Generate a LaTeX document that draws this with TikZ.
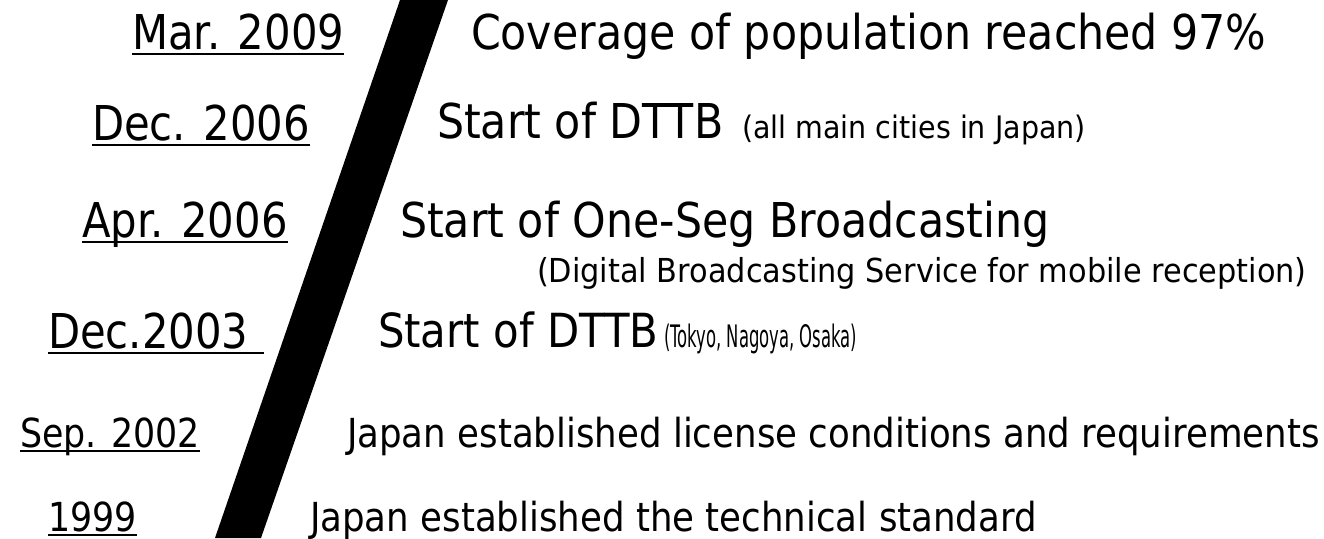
\documentclass[tikz,border=0pt]{standalone}
\usepackage{fontspec}
\setmainfont[FakeStretch=0.87]{DejaVu Sans}
\newfontfamily\fwide[FakeStretch=0.89]{DejaVu Sans}
\newfontfamily\fdig[FakeStretch=0.92]{DejaVu Sans}
\newfontfamily\fnarrow[FakeStretch=0.53]{DejaVu Sans}
\tikzset{
  lbl/.style={inner sep=0pt, outer sep=0pt, anchor=base west},
  big/.style={lbl, font=\fontsize{48}{48}\selectfont},
  mid/.style={lbl, font=\fontsize{40}{40}\selectfont},
  evbig/.style={lbl, font=\fwide\fontsize{48}{48}\selectfont},
  evbigb/.style={lbl, font=\fwide\fontsize{47}{47}\selectfont},
  evmid/.style={lbl, font=\fwide\fontsize{40}{40}\selectfont},
  dig/.style={lbl, font=\fdig\fontsize{33}{33}\selectfont},
  paren/.style={lbl, font=\fdig\fontsize{31}{31}\selectfont},
  parennarrow/.style={lbl, font=\fnarrow\fontsize{31}{31}\selectfont},
  uline/.style={line width=2.5pt},
}
\begin{document}
\begin{tikzpicture}[x=1pt,y=-1pt]
\useasboundingbox[fill=white] (0,0) rectangle (1324,538);
% slanted bar
\fill[black] (400,0) -- (448,0) -- (261,538) -- (215,538) -- cycle;
% dates
\node[big] (d1) at (132,49) {Mar. 2009};
\node[big] (d2) at (92,140) {Dec. 2006};
\node[big] (d3) at (82,237) {Apr. 2006};
\node[big] (d4) at (48,348) {Dec.2003};
\node[mid] (d5) at (20,447) {Sep. 2002};
\node[mid] (d6) at (48,531) {1999};
\draw[uline] ([yshift=-5pt]d1.base west) -- ([yshift=-5pt]d1.base east);
\draw[uline] ([yshift=-5pt]d2.base west) -- ([yshift=-5pt]d2.base east);
\draw[uline] ([yshift=-5pt]d3.base west) -- ([yshift=-5pt]d3.base east);
\draw[uline] ([yshift=-5pt]d4.base west) -- ([yshift=-5pt,xshift=16pt]d4.base east);
\draw[uline] ([yshift=-4pt]d5.base west) -- ([yshift=-4pt]d5.base east);
\draw[uline] ([yshift=-4pt]d6.base west) -- ([yshift=-4pt]d6.base east);
% events
\node[evbig] (e1) at (471,49) {Coverage of population reached 97\%};
\node[evbig] (e2) at (437,138) {Start of DTTB};
\node[paren] (e2b) at (742,138) {(all main cities in Japan)};
\node[evbig] (e3) at (400,237) {Start of One-Seg Broadcasting};
\node[dig] (e3b) at (537,282) {(Digital Broadcasting Service for mobile reception)};
\node[evbigb] (e4) at (378,347) {Start of DTTB};
\node[parennarrow] (e4b) at (664,347) {(Tokyo, Nagoya, Osaka)};
\node[evmid] (e5) at (347,447) {Japan established license conditions and requirements};
\node[evmid] (e6) at (310,531) {Japan established the technical standard};
\end{tikzpicture}
\end{document}
